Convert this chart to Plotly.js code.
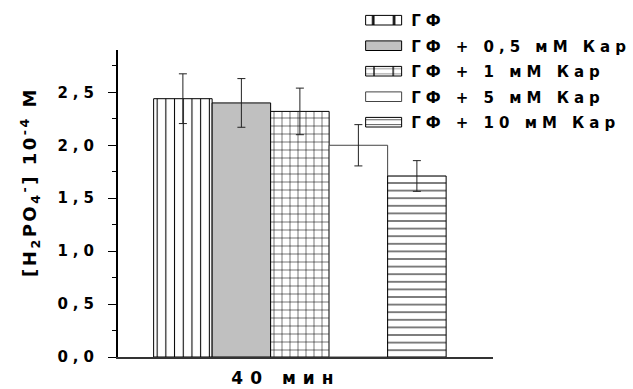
<!DOCTYPE html>
<html>
<head>
<meta charset="utf-8">
<script src="https://cdn.plot.ly/plotly-3.0.1.min.js"></script>
<style>
  html, body { margin: 0; padding: 0; background: #fff; }
  #chart { width: 633px; height: 389px; }
  .ytick text { letter-spacing: 5px; }
  .xtick text { letter-spacing: 7px; }
  .legendtext { letter-spacing: 5px; }
  .annotation-text { letter-spacing: 2.5px; }
  .legendpoints path { transform: translate(27.5px, 0px) scale(3, 0.8) !important; vector-effect: non-scaling-stroke; }
</style>
</head>
<body>
<div id="chart"></div>
<script>
// ---- data ----
const categories = ['40 мин'];
const seriesNames = ['ГФ', 'ГФ + 0,5 мМ Кар', 'ГФ + 1 мМ Кар', 'ГФ + 5 мМ Кар', 'ГФ + 10 мМ Кар'];
const meanValues = [2.44, 2.40, 2.32, 2.00, 1.71];
const errorValues = [0.235, 0.23, 0.22, 0.195, 0.145];
const yTickValues = [0, 0.5, 1.0, 1.5, 2.0, 2.5];
const yTitle = '[H<sub>2</sub>PO<sub>4</sub><sup>-</sup>] 10<sup>-4</sup> M';

// ---- styles ----
const fills = ['#ffffff', '#c0c0c0', '#ffffff', '#ffffff', '#ffffff'];
const patterns = [
  {shape: '|', size: 8.7, solidity: 0.12, fgcolor: '#000', bgcolor: '#fff'},
  {shape: ''},
  {shape: '+', size: 8, solidity: 0.13, fgcolor: '#000', bgcolor: '#fff'},
  {shape: ''},
  {shape: '-', size: 7.6, solidity: 0.13, fgcolor: '#000', bgcolor: '#fff'}
];
const outline = ['#000', '#000', '#000', '#444', '#000'];

const traces = seriesNames.map((name, i) => ({
  type: 'bar',
  name: name,
  legendgroup: 'g' + i,
  x: categories,
  y: [meanValues[i]],
  marker: {
    color: fills[i],
    line: {color: outline[i], width: 1},
    pattern: patterns[i]
  },
  error_y: {
    type: 'data',
    array: [errorValues[i]],
    visible: true,
    color: '#222',
    thickness: 1,
    width: 4
  }
}));

const fontFam = '"DejaVu Sans", "Liberation Sans", Arial, sans-serif';

const layout = {
  width: 633,
  height: 389,
  margin: {l: 118, r: 140, t: 50, b: 32, autoexpand: false},
  paper_bgcolor: '#fff',
  plot_bgcolor: '#fff',
  separators: ', ',
  barmode: 'group',
  bargap: 0.22,
  bargroupgap: 0,
  showlegend: true,
  legend: {
    x: 0.635, xanchor: 'left',
    y: 1.15, yanchor: 'top',
    font: {family: fontFam, size: 15, weight: 700, color: '#000'},
    itemwidth: 45,
    tracegroupgap: 3,
    bgcolor: 'rgba(0,0,0,0)',
    borderwidth: 0
  },
  xaxis: {
    type: 'category',
    range: [-0.485, 0.515],
    showline: true,
    linecolor: '#333',
    linewidth: 1.5,
    ticks: '',
    showgrid: false,
    zeroline: false,
    tickfont: {family: fontFam, size: 17, weight: 700, color: '#000'},
    ticklabelshift: -14,
    ticklabelstandoff: 5
  },
  yaxis: {
    range: [0, 2.9],
    tickvals: yTickValues,
    tickformat: '.1f',
    showline: true,
    linecolor: '#000',
    linewidth: 2,
    ticks: 'outside',
    ticklen: 8,
    tickwidth: 1,
    tickcolor: '#000',
    minor: {dtick: 0.25, ticks: 'outside', ticklen: 4, tickwidth: 1, tickcolor: '#000', showgrid: false},
    showgrid: false,
    zeroline: false,
    tickfont: {family: fontFam, size: 15, weight: 700, color: '#000'},
    ticklabelstandoff: 6
  },
  annotations: [{
    text: yTitle,
    xref: 'paper', yref: 'paper',
    x: -0.235, y: 0.57,
    xanchor: 'center', yanchor: 'middle',
    textangle: -90,
    showarrow: false,
    font: {family: fontFam, size: 18, weight: 700, color: '#000'}
  }]
};

Plotly.newPlot('chart', traces, layout, {displayModeBar: false, staticPlot: true});
</script>
</body>
</html>
